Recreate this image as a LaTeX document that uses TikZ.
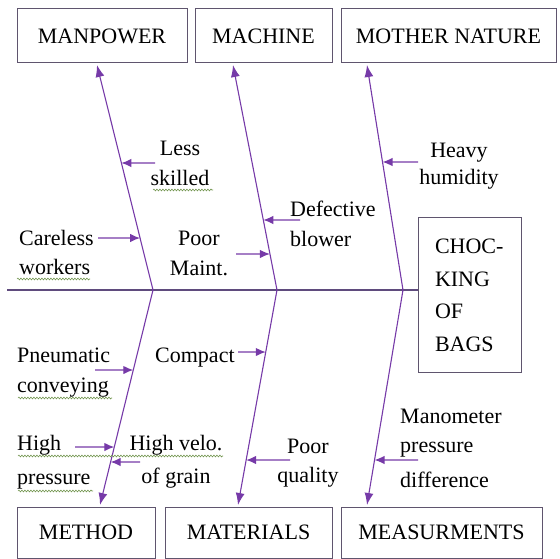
\documentclass[tikz,border=0pt]{standalone}
\usepackage{fontspec}
\setmainfont{Liberation Serif}
\usetikzlibrary{arrows.meta,decorations.pathmorphing}
\definecolor{bonec}{RGB}{118,58,168}
\definecolor{spinec}{RGB}{95,75,125}
\definecolor{boxc}{RGB}{95,85,110}
\definecolor{sqc}{RGB}{115,150,80}
\begin{document}
\begin{tikzpicture}[x=1pt,y=-1pt,
  font=\fontsize{22}{30}\selectfont,
  catbox/.style={draw=boxc, line width=1pt, inner sep=0pt, text=black},
  bone/.style={draw=bonec, line width=1.1pt, -{Latex[length=12pt,width=9pt]}},
  cause/.style={draw=bonec, line width=1.2pt, -{Latex[length=10pt,width=8.5pt]}},
  spine/.style={draw=spinec, line width=1.1pt},
  lbl/.style={inner sep=0pt},
  squig/.style={draw=sqc, line width=0.6pt, decorate, decoration={snake, amplitude=0.9pt, segment length=3pt}}]
\useasboundingbox (0,0) rectangle (560,559);

% category boxes
\node[catbox, minimum width=170pt, minimum height=54pt] (mp) at (102,36) {MANPOWER};
\node[catbox, minimum width=137pt, minimum height=54pt] (mc) at (263.5,36) {MACHINE};
\node[catbox, minimum width=215pt, minimum height=54pt] (mn) at (448.5,36) {MOTHER NATURE};
\node[catbox, minimum width=138pt, minimum height=51pt] (me) at (86,532.5) {METHOD};
\node[catbox, minimum width=167pt, minimum height=51pt] (ma) at (248.5,532.5) {MATERIALS};
\node[catbox, minimum width=201pt, minimum height=51pt] (ms) at (441.5,532.5) {MEASURMENTS};

% effect box
\node[catbox, minimum width=103pt, minimum height=154pt, text width=69pt, align=left] (choc) at (469.5,295)
  {CHOC-\\[3pt]KING\\[2pt]OF\\[3pt]BAGS};

% spine
\coordinate (S0) at (7,290);
\draw[spine] (S0) -- (S0 -| choc.west);

% junctions and bone tips
\coordinate (J1) at (153,290);
\coordinate (J2) at (277,290);
\coordinate (J3) at (403,290);
\coordinate (T1) at (97,65);
\coordinate (T2) at (233,65);
\coordinate (T3) at (367,65);
\coordinate (B1) at (100,505);
\coordinate (B2) at (238,505);
\coordinate (B3) at (367,505);

\draw[bone] (J1) -- (T1);
\draw[bone] (J2) -- (T2);
\draw[bone] (J3) -- (T3);
\draw[bone] (J1) -- (B1);
\draw[bone] (J2) -- (B2);
\draw[bone] (J3) -- (B3);

% cause labels
\node[lbl, anchor=north, align=center] (t1) at (180,140.5) {Less\\skilled};
\node[lbl, anchor=north west, align=left] (t2) at (19,230.5) {Careless\\[-1pt]workers};
\node[lbl, anchor=north, align=center] (t3) at (199,230.5) {Poor\\Maint.};
\node[lbl, anchor=north west, align=left] (t4) at (290,200.5) {Defective\\blower};
\node[lbl, anchor=north, align=center] (t5) at (459,142.5) {Heavy\\[-3pt]humidity};
\node[lbl, anchor=north west, align=left] (t6) at (17,347.5) {Pneumatic\\conveying};
\node[lbl, anchor=base west] (t7) at (155,362) {Compact};
\node[lbl, anchor=north west, align=left] (t8) at (17,435.5) {High\\[4pt]pressure};
\node[lbl, anchor=north, align=center] (t9) at (176,435.5) {High velo.\\[3pt]of grain};
\node[lbl, anchor=north, align=center] (t10) at (308,438.5) {Poor\\[-1pt]quality};
\node[lbl, anchor=north west, align=left] (t11) at (400,408.5) {Manometer\\[-1pt]pressure\\[5pt]difference};

% cause arrow tails
\coordinate (c1) at (155,163);
\coordinate (c2) at (98,238);
\coordinate (c3) at (236,254);
\coordinate (c4) at (300,220);
\coordinate (c5) at (418,162);
\coordinate (c6) at (95,370);
\coordinate (c7) at (238,352);
\coordinate (c8) at (75,447);
\coordinate (c9) at (140,462);
\coordinate (c10) at (290,460);
\coordinate (c11) at (418,460);

\draw[cause] (c1) -- (intersection of J1--T1 and 0,163--10,163);
\draw[cause] (c2) -- (intersection of J1--T1 and 0,238--10,238);
\draw[cause] (c3) -- (intersection of J2--T2 and 0,254--10,254);
\draw[cause] (c4) -- (intersection of J2--T2 and 0,220--10,220);
\draw[cause] (c5) -- (intersection of J3--T3 and 0,162--10,162);
\draw[cause] (c6) -- (intersection of J1--B1 and 0,370--10,370);
\draw[cause] (c7) -- (intersection of J2--B2 and 0,352--10,352);
\draw[cause] (c8) -- (intersection of J1--B1 and 0,447--10,447);
\draw[cause] (c9) -- (intersection of J1--B1 and 0,462--10,462);
\draw[cause] (c10) -- (intersection of J2--B2 and 0,460--10,460);
\draw[cause] (c11) -- (intersection of J3--B3 and 0,460--10,460);

% spell-check squiggles
\draw[squig] (153,190) -- (213,190);
\draw[squig] (17,279) -- (90,279);
\draw[squig] (18,398) -- (112,398);
\draw[squig] (18,456) -- (223,456);
\draw[squig] (18,491) -- (93,491);
\end{tikzpicture}
\end{document}
